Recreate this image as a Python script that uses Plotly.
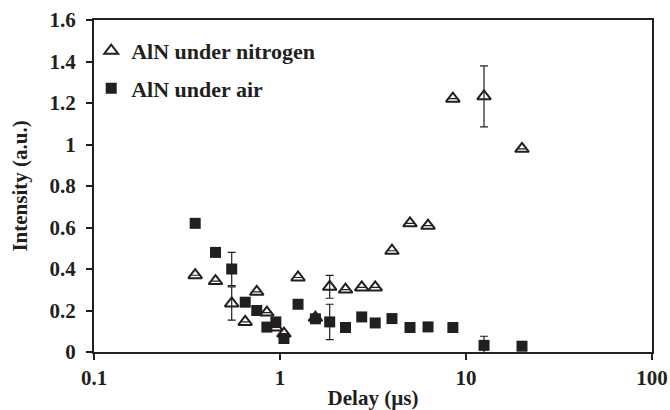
import plotly.graph_objects as go

delay = [0.35, 0.45, 0.55, 0.65, 0.75, 0.85, 0.95, 1.05, 1.25, 1.55,
         1.85, 2.25, 2.75, 3.25, 4.0, 5.0, 6.25, 8.5, 12.5, 20.0]
nitrogen = [0.37, 0.342, 0.234, 0.145, 0.29, 0.19, 0.118, 0.089, 0.359, 0.165,
            0.314, 0.301, 0.311, 0.311, 0.488, 0.62, 0.609, 1.221, 1.232, 0.979]
air = [0.62, 0.48, 0.40, 0.24, 0.20, 0.12, 0.145, 0.065, 0.23, 0.16,
       0.145, 0.118, 0.169, 0.14, 0.161, 0.118, 0.121, 0.118, 0.032, 0.028]
nitrogen_err = [None, None, 0.08, None, None, None, None, None, None, None,
                0.055, None, None, None, None, None, None, None, 0.147, None]
air_err = [None, None, 0.08, None, None, None, None, None, None, None,
           0.085, None, None, None, None, None, None, None, 0.044, None]

x_tickvals = [0.1, 1, 10, 100]
x_ticktext = ["0.1", "1", "10", "100"]

ink = "#231f20"
font_family = "Liberation Serif"
fs = 21

fig = go.Figure()
fig.add_trace(go.Scatter(
    x=delay, y=nitrogen, mode="markers", name="AlN under nitrogen",
    legendgroup="n",
    marker=dict(symbol="triangle-up-open", size=12, color=ink,
                line=dict(width=2, color=ink)),
    error_y=dict(type="data", array=nitrogen_err, visible=True,
                 color=ink, thickness=1.2, width=4),
))
fig.add_trace(go.Scatter(
    x=delay, y=air, mode="markers", name="AlN under air",
    legendgroup="a",
    marker=dict(symbol="square", size=11, color=ink),
    error_y=dict(type="data", array=air_err, visible=True,
                 color=ink, thickness=1.2, width=4),
))

fig.update_layout(
    width=670, height=410,
    margin=dict(l=94, r=18, t=20, b=58),
    paper_bgcolor="white", plot_bgcolor="white",
    font=dict(family=font_family, size=fs, color=ink),
    showlegend=True,
    legend=dict(x=-0.005, y=0.97, xanchor="left", yanchor="top",
                bgcolor="rgba(0,0,0,0)", tracegroupgap=6, itemwidth=30,
                font=dict(family=font_family, size=fs + 1, color=ink, weight="bold")),
)
fig.update_xaxes(
    type="log", range=[-1, 2], tickvals=x_tickvals, ticktext=x_ticktext,
    showgrid=False, zeroline=False, automargin=False,
    showline=True, linecolor=ink, linewidth=2, mirror=True,
    ticks="outside", ticklen=6, tickwidth=1.5, tickcolor=ink,
    tickfont=dict(family=font_family, size=fs, color=ink, weight="bold"),
    title=dict(text="Delay (µs)", standoff=2,
               font=dict(family=font_family, size=fs, color=ink, weight="bold")),
)
fig.update_yaxes(
    range=[0, 1.6], dtick=0.2, tick0=0,
    showgrid=False, zeroline=False, automargin=False,
    showline=True, linecolor=ink, linewidth=2, mirror=True,
    ticks="outside", ticklen=6, tickwidth=1.5, tickcolor=ink,
    ticklabelstandoff=6,
    tickfont=dict(family=font_family, size=fs, color=ink, weight="bold"),
    title=dict(text="Intensity (a.u.)", standoff=16,
               font=dict(family=font_family, size=fs, color=ink, weight="bold")),
)

fig.write_html("out.html", config={"displayModeBar": False},
               post_script="document.body.style.margin='0';")
